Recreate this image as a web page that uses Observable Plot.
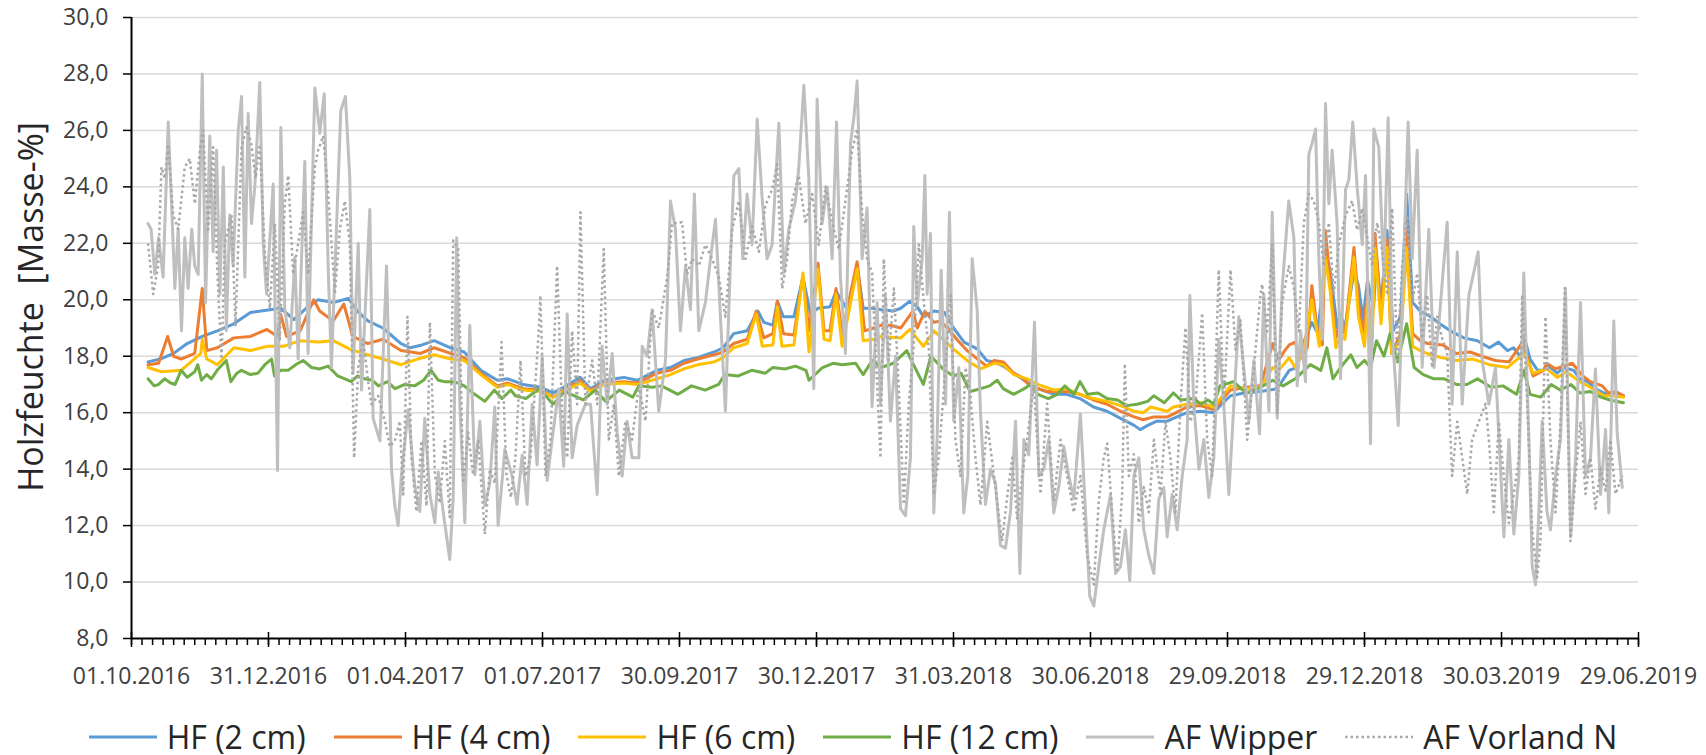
<!DOCTYPE html>
<html><head><meta charset="utf-8">
<script src="https://cdn.jsdelivr.net/npm/d3@7"></script>
<script src="https://cdn.jsdelivr.net/npm/@observablehq/plot@0.6"></script>
<style>
body{margin:0;background:#fff;font-family:"Open Sans",sans-serif;}
#chart svg{display:block;}
#legend{display:flex;justify-content:center;align-items:center;height:36px;margin-top:19px;font-size:32px;line-height:1;color:#262626;white-space:nowrap;}
.item{display:flex;align-items:center;margin:0 14px;line-height:1;}
.item span{line-height:1;}
.item svg{margin-right:10px;}
</style></head><body><div id="chart"></div><div id="legend"></div>
<script>
// x-axis tick labels (Excel major unit: 91 days)
const xTickLabels = ["01.10.2016","31.12.2016","01.04.2017","01.07.2017","30.09.2017","30.12.2017","31.03.2018","30.06.2018","29.09.2018","29.12.2018","30.03.2019","29.06.2019"];
const yTicks = [8,10,12,14,16,18,20,22,24,26,28,30];
const seriesNames = ["HF (2 cm)","HF (4 cm)","HF (6 cm)","HF (12 cm)","AF Wipper","AF Vorland N"];
const seriesColors = ["#5B9BD5","#ED7D31","#FFC000","#70AD47","#BFBFBF","#A8A8A8"];

// each pair: [days since 01.10.2016, Holzfeuchte in Masse-%]
const hf2 = [[11,17.8],[19,17.9],[28,18.1],[37,18.45],[47,18.7],[57,18.9],[68,19.15],[79,19.55],[86,19.6],[99,19.7],[108,19.3],[116,19.7],[124,20.0],[134,19.9],[144,20.05],[150,19.6],[157,19.25],[167,19.0],[179,18.45],[185,18.3],[193,18.4],[201,18.55],[212,18.3],[221,18.15],[232,17.5],[243,17.15],[250,17.2],[260,17.0],[272,16.9],[280,16.7],[287,16.9],[298,17.25],[305,16.85],[314,17.15],[327,17.25],[336,17.15],[349,17.5],[358,17.6],[367,17.85],[376,17.95],[387,18.15],[393,18.3],[400,18.8],[409,18.9],[416,19.6],[420,19.2],[426,19.1],[429,19.95],[433,19.4],[440,19.4],[446,20.8],[451,19.5],[456,19.7],[464,19.75],[468,20.3],[476,19.6],[482,21.2],[486,19.7],[492,19.7],[498,19.65],[506,19.6],[511,19.7],[517,19.95],[522,19.75],[526,19.4],[533,19.6],[540,19.55],[546,19.0],[553,18.5],[562,18.25],[568,17.85],[573,17.8],[579,17.65],[586,17.4],[593,17.15],[602,16.85],[613,16.65],[621,16.65],[630,16.5],[639,16.2],[648,16.05],[657,15.8],[666,15.55],[670,15.4],[675,15.55],[681,15.7],[688,15.7],[692,15.8],[701,16.0],[710,16.05],[719,16.0],[724,16.3],[730,16.6],[739,16.7],[750,16.75],[761,16.85],[769,17.5],[774,17.6],[779,18.55],[784,19.2],[788,18.8],[793,21.5],[796,21.1],[801,19.0],[803,19.5],[806,19.0],[812,21.0],[815,20.5],[818,19.3],[821,20.7],[825,19.7],[827,21.5],[830,19.8],[834,22.45],[838,18.9],[843,19.4],[847,23.75],[851,19.9],[856,19.6],[863,19.4],[869,19.15],[876,18.9],[885,18.65],[894,18.55],[902,18.3],[908,18.5],[914,18.2],[918,18.3],[923,17.95],[925,18.7],[929,17.9],[934,17.5],[938,17.5],[940,17.7],[947,17.4],[951,17.6],[958,17.5],[962,17.2],[967,17.1],[974,16.8],[980,16.65],[985,16.7],[991,16.6]];

const hf4 = [[11,17.7],[18,17.75],[24,18.7],[28,18.0],[33,17.9],[42,18.1],[47,20.4],[50,18.2],[57,18.3],[68,18.65],[79,18.7],[90,18.95],[97,18.7],[99,19.5],[103,18.7],[112,18.9],[121,20.0],[125,19.6],[134,19.25],[141,19.85],[147,18.7],[157,18.45],[167,18.6],[179,18.2],[192,18.1],[201,18.3],[212,18.1],[221,17.95],[232,17.4],[243,16.95],[250,17.05],[260,16.85],[272,16.8],[280,16.55],[287,16.8],[298,17.15],[305,16.8],[314,17.05],[327,17.1],[336,17.05],[349,17.4],[358,17.5],[367,17.75],[376,17.9],[387,18.05],[393,18.15],[400,18.45],[409,18.6],[415,19.6],[420,18.65],[426,18.8],[429,19.95],[433,18.8],[440,18.75],[446,20.85],[450,18.9],[456,21.3],[460,18.9],[464,18.9],[468,20.4],[472,18.8],[482,21.35],[487,18.9],[493,19.0],[498,19.1],[504,19.1],[511,19.0],[519,19.6],[522,19.0],[527,19.6],[533,19.2],[537,19.25],[542,19.0],[549,18.55],[555,18.2],[562,17.9],[568,17.65],[573,17.85],[579,17.8],[586,17.4],[590,17.3],[597,16.95],[608,16.75],[621,16.75],[630,16.65],[639,16.45],[648,16.3],[657,16.05],[666,15.85],[672,15.75],[679,15.85],[688,15.85],[692,15.95],[701,16.2],[710,16.25],[719,16.1],[724,16.45],[730,16.8],[741,16.9],[750,16.95],[758,18.45],[762,17.85],[766,18.2],[769,18.4],[773,18.5],[776,17.9],[781,18.3],[784,20.5],[788,18.8],[791,18.4],[793,22.45],[796,20.8],[800,18.65],[803,19.15],[806,18.8],[812,21.85],[815,19.9],[818,18.8],[821,20.25],[824,18.65],[826,22.35],[830,19.4],[834,22.15],[837,18.1],[843,18.8],[847,22.45],[851,18.8],[856,18.55],[861,18.45],[871,18.4],[880,18.1],[889,18.15],[897,18.0],[906,17.85],[915,17.8],[924,18.5],[931,17.3],[938,17.5],[940,17.75],[946,17.55],[951,17.65],[957,17.75],[964,17.3],[969,17.1],[977,16.95],[981,16.7],[986,16.75],[991,16.6]];

const hf6 = [[11,17.6],[20,17.45],[33,17.5],[46,18.1],[47,18.6],[50,17.9],[57,17.7],[68,18.3],[79,18.2],[90,18.35],[101,18.35],[112,18.55],[124,18.5],[134,18.55],[145,18.25],[157,18.05],[167,17.9],[179,17.7],[190,17.9],[201,18.05],[212,17.9],[221,17.85],[232,17.35],[243,16.9],[250,17.0],[260,16.8],[272,16.75],[280,16.55],[287,16.75],[298,17.05],[305,16.75],[314,17.0],[327,17.05],[336,17.0],[349,17.2],[358,17.35],[367,17.55],[376,17.7],[387,17.8],[393,17.95],[400,18.3],[409,18.45],[415,19.5],[419,18.35],[426,18.4],[429,19.75],[432,18.35],[440,18.4],[446,20.95],[450,18.15],[456,21.1],[460,18.6],[464,18.55],[468,20.2],[472,18.35],[482,21.1],[486,18.55],[493,18.6],[498,18.7],[511,18.65],[517,18.95],[526,18.35],[533,18.9],[546,18.25],[555,17.85],[564,17.55],[573,17.75],[579,17.7],[586,17.35],[595,17.2],[602,17.0],[613,16.8],[621,16.85],[630,16.65],[639,16.5],[648,16.4],[657,16.25],[666,16.05],[672,16.0],[677,16.2],[688,16.05],[692,16.2],[701,16.3],[710,16.35],[719,16.2],[724,16.55],[730,16.95],[741,16.85],[750,16.9],[758,17.6],[762,17.5],[769,17.95],[773,17.6],[779,18.3],[784,20.0],[789,18.35],[793,21.5],[796,20.4],[800,18.3],[803,18.8],[806,18.6],[812,21.5],[815,19.4],[819,18.35],[821,19.9],[824,18.35],[826,21.85],[830,19.15],[834,21.85],[837,18.1],[843,18.55],[847,21.85],[851,18.35],[856,18.2],[863,18.05],[870,17.95],[880,17.85],[891,17.9],[902,17.7],[914,17.6],[925,18.1],[931,17.4],[940,17.55],[947,17.25],[953,17.45],[962,17.1],[969,16.9],[978,16.6],[985,16.6],[991,16.55]];

const hf12 = [[11,17.2],[15,16.95],[18,17.0],[22,17.2],[26,17.05],[29,17.0],[33,17.5],[37,17.25],[42,17.45],[44,17.7],[46.5,17.15],[50,17.35],[53,17.2],[57.6,17.55],[63,17.85],[66,17.1],[70,17.4],[73,17.5],[79,17.35],[84,17.4],[88.6,17.7],[93,17.9],[95,17.3],[99,17.5],[104,17.5],[109,17.7],[114,17.85],[119.6,17.6],[125,17.55],[130.6,17.65],[137,17.3],[146,17.1],[150,17.3],[155,17.2],[160,17.15],[164,16.95],[170,17.1],[175,16.85],[181.6,17.0],[188,16.95],[194,17.15],[199,17.5],[203.7,17.15],[208,17.1],[212.6,17.1],[217,17.05],[221,16.95],[228,16.65],[234.7,16.4],[241,16.8],[246,16.5],[252,16.8],[255,16.6],[262,16.5],[271,16.85],[280,16.3],[288,16.75],[300,16.45],[308,16.8],[315,16.4],[324,16.8],[333,16.55],[337,16.95],[346,16.9],[352,16.95],[363,16.65],[372,16.95],[381,16.8],[390,17.0],[394,17.35],[403,17.3],[412,17.5],[421,17.4],[426,17.6],[434,17.55],[441,17.65],[448,17.5],[450,17.15],[459,17.6],[466,17.75],[472,17.7],[481,17.75],[486,17.35],[492,17.85],[498,17.6],[506,17.75],[515,18.2],[519,17.75],[526,17.0],[531,18.0],[540,17.5],[546,17.3],[551,17.4],[557,16.75],[564,16.85],[570,16.95],[575,17.15],[579,16.85],[586,16.65],[593,16.85],[597,17.0],[602,16.65],[609,16.5],[615,16.65],[620,16.95],[626,16.65],[630,17.1],[635,16.65],[642,16.7],[648,16.5],[655,16.45],[661,16.25],[668,16.3],[675,16.4],[679,16.6],[686,16.35],[692,16.7],[697,16.45],[706,16.5],[710,16.3],[715,16.45],[719,16.3],[723,16.95],[732,17.1],[737,16.85],[741,16.7],[750,16.9],[758,17.15],[765,16.95],[773,17.2],[776,17.35],[783,17.7],[790,17.5],[794,18.3],[798,17.2],[803,17.6],[810,18.05],[814,17.6],[819,17.85],[823,17.6],[827,18.55],[832,18.0],[836,18.8],[841,17.8],[847,19.15],[852,17.6],[858,17.35],[865,17.2],[872,17.2],[880,17.0],[887,17.0],[894,17.2],[903,16.9],[911,16.95],[920,16.65],[925,17.5],[929,16.65],[936,16.55],[943,17.0],[949,16.8],[956,17.0],[962,16.7],[969,16.75],[976,16.55],[982,16.45],[991,16.35]];

const afWipper = [[11,22.7],[13,22.5],[15.5,20.9],[18,22.2],[21,20.8],[24.4,26.3],[26.6,23.4],[28.8,20.4],[31,22.5],[33.2,18.9],[35.4,22.2],[37.6,20.4],[40,22.5],[42,21.2],[44.3,20.9],[47,28.0],[49.2,19.9],[52,25.8],[54.2,21.7],[56.5,25.3],[58.7,20.2],[61,24.7],[63,18.9],[65.3,23.0],[67.5,21.2],[70.9,26.0],[73.1,27.2],[75.3,20.8],[77.5,26.6],[79.7,22.7],[81.9,24.0],[85.2,27.7],[87.5,22.0],[89.7,20.2],[94.1,24.1],[97,13.95],[99.2,26.1],[101.8,19.7],[105.2,18.3],[108.5,21.5],[110.7,17.9],[115.1,24.9],[117.3,18.1],[121.8,27.5],[125.1,25.9],[128,27.3],[130.6,21.2],[132.8,17.6],[139,26.7],[142.1,27.2],[145,24.3],[147.2,17.4],[150.6,22.0],[152.8,16.8],[158.3,23.2],[160.5,15.8],[165,15.0],[169.4,21.2],[172.7,14.0],[174.9,12.7],[177.1,12.0],[179.3,13.8],[183.8,16.1],[188.2,13.4],[191.5,12.5],[194.8,15.8],[198.2,13.1],[201.5,12.1],[203.7,13.9],[207,12.5],[211.4,10.8],[213.7,13.0],[216,22.2],[218.1,16.3],[221.4,12.1],[224.7,19.1],[228.1,13.8],[231.4,15.7],[234.7,12.7],[238,13.5],[241.3,16.2],[243.5,12.0],[248,14.7],[252.8,13.75],[256.1,12.75],[259.5,14.5],[262.8,12.75],[266.1,16.3],[269.4,14.15],[272.8,18.0],[276.1,13.6],[279.4,15.05],[283.8,16.85],[287.1,14.1],[289.4,19.5],[292.7,14.4],[296,15.55],[301.5,16.3],[304.9,16.3],[309.3,13.1],[312.6,18.35],[315.9,16.3],[319.3,18.1],[322.6,15.3],[325.9,13.75],[329.2,15.7],[332.5,14.4],[337,14.4],[339.2,18.35],[342.5,18.0],[345.8,19.65],[350.2,16.05],[354.7,17.85],[358,23.5],[361.3,22.5],[364.6,18.9],[368,21.2],[371.3,19.65],[373.9,23.75],[376.8,18.9],[381.2,19.9],[384.6,21.45],[387.9,22.85],[391.2,19.4],[394.5,16.05],[397.9,21.45],[400.1,24.4],[403.4,24.65],[406,21.45],[408.9,23.75],[412.2,21.95],[415.6,26.4],[418.9,23.6],[422.2,21.45],[425.5,21.95],[430,26.25],[433.3,20.95],[436.6,22.5],[441,23.5],[443.2,24.65],[446.6,27.6],[449.9,24.3],[453.2,16.85],[455.4,27.1],[458.7,22.7],[462.1,24.0],[465.4,21.45],[468.3,26.3],[470.9,20.8],[474.2,18.1],[477.6,25.55],[479.8,26.45],[482,27.75],[485.3,21.45],[488.6,23.25],[491.9,16.2],[495.3,19.9],[497.5,16.3],[500.8,20.15],[504.1,15.7],[507.5,18.0],[510.8,12.6],[514.1,12.35],[517.4,14.4],[519.6,22.6],[521.9,19.8],[525.2,21.45],[527,24.4],[528.5,20.2],[530.7,22.35],[532.9,12.45],[535.1,15.05],[537.8,21.05],[540.7,16.3],[543.3,23.1],[546.2,15.7],[549.5,17.6],[552.8,12.45],[555.5,13.75],[558.4,21.45],[561.7,19.65],[563.9,16.05],[567.2,12.75],[570.6,14.0],[573.9,13.5],[577.2,11.3],[580.5,11.2],[583.9,12.5],[587.2,15.7],[590.1,10.3],[592.7,15.05],[596,14.5],[599.8,19.2],[602.7,13.75],[606,14.0],[609.3,15.05],[612.6,12.45],[616,13.4],[619.3,14.8],[622.6,13.75],[625.9,12.95],[630.3,15.95],[633.7,12.45],[636.5,9.5],[639.2,9.15],[642.5,10.55],[645.8,11.85],[650.3,13.1],[653.6,10.3],[656.9,10.55],[660.2,11.85],[663.1,10.05],[665.8,13.75],[669.1,14.4],[672.4,11.85],[675.7,10.95],[679.1,10.3],[682.4,12.95],[685.7,13.35],[687.9,11.6],[691.2,13.1],[694.6,11.85],[697.9,13.75],[701.2,15.05],[703,20.15],[705.6,16.3],[709,14.0],[712.3,15.05],[715.6,13.0],[718.9,14.4],[722.2,18.6],[725.5,16.3],[728.9,13.1],[732.2,16.3],[735.5,19.4],[738.8,17.6],[742.2,15.7],[745.5,17.85],[749.3,15.25],[752.1,20.2],[755.5,16.05],[757.7,23.1],[761,15.8],[764.3,20.4],[768.7,23.5],[772.1,22.2],[774.3,16.95],[776.6,18.9],[779.8,17.1],[782,25.15],[784.2,25.55],[786.5,26.05],[788.7,21.45],[790.9,18.6],[793.1,26.95],[795.3,23.4],[797.5,25.3],[800.8,22.7],[803.1,17.2],[806.4,23.9],[808.6,24.25],[811.2,26.3],[814.1,24.0],[817.5,21.95],[819.7,24.4],[823,14.9],[825.2,26.05],[828.5,25.4],[831.8,20.8],[834.7,26.45],[837.4,18.9],[841.4,15.55],[845.1,21.45],[848,26.3],[850.7,21.45],[854,25.3],[857.3,17.6],[861.7,22.5],[865.1,17.6],[868.4,19.15],[873.9,22.75],[877.2,16.3],[880.6,21.7],[883.9,16.3],[888.3,20.15],[894.5,21.7],[897.2,17.85],[901.6,16.3],[906,17.6],[911.6,11.6],[914.9,15.05],[918.2,11.7],[921.5,13.75],[924.8,20.95],[928.2,15.05],[930.4,10.55],[932.6,9.9],[934.8,12.5],[937,15.7],[940.2,12.5],[942.5,11.85],[945.9,13.75],[949.2,15.05],[952.5,20.4],[955.9,11.6],[959.2,14.4],[962.5,19.9],[965.8,13.75],[969.1,14.4],[972.4,17.55],[975.8,13.1],[979.1,15.4],[981.3,12.45],[984.6,19.25],[986.8,15.3],[990.2,13.35]];

const afVorland = [[11,22.0],[14.4,20.2],[17.7,21.2],[19.9,24.7],[22.1,24.3],[24.4,25.5],[27.7,23.0],[31,22.5],[35.4,24.7],[38.7,25.0],[42.1,23.4],[45.4,25.3],[47.6,26.0],[50.9,22.4],[54.2,25.4],[57.1,20.9],[59.8,17.9],[62,22.0],[66.4,23.0],[69.1,19.1],[73.1,25.4],[76.4,26.1],[79.7,25.5],[82.4,24.3],[85.2,25.5],[88.6,21.6],[91.9,19.7],[95.2,22.7],[98.5,18.6],[101.8,23.4],[104.1,24.4],[107.4,20.9],[110.7,22.0],[114,23.1],[117.3,20.9],[121.8,24.7],[124,25.3],[127.3,25.8],[130.6,23.8],[135.1,20.2],[138.4,22.5],[141.7,23.5],[145,22.0],[147.9,14.4],[150.6,17.6],[153.9,18.6],[157.2,17.1],[159.4,16.3],[163.8,16.6],[168.3,15.7],[171.6,14.8],[174.9,15.0],[178.2,15.7],[180.5,13.1],[183.3,19.4],[186,14.4],[189.3,12.5],[192.6,15.0],[196,12.7],[198.2,19.2],[201.5,13.8],[204.8,12.8],[208.1,15.0],[211.4,12.3],[213.7,22.1],[217,21.8],[220.3,13.5],[223.6,15.3],[226.9,13.8],[230.3,15.0],[234.7,11.7],[238,14.0],[241.3,13.5],[245.8,18.5],[249.1,13.8],[252,13.0],[255,14.4],[258.4,17.85],[261.7,13.75],[265,14.4],[270.5,18.9],[271.6,20.15],[275,13.75],[278.3,15.05],[282.7,21.2],[286,16.05],[289.4,14.4],[292.7,18.9],[296,16.3],[298.2,23.1],[301.5,16.3],[306,17.85],[309.3,16.3],[313.7,21.8],[317,15.05],[320.4,16.3],[323.7,13.75],[328.1,15.7],[332.5,15.05],[337,16.95],[341.4,15.7],[345.8,19.65],[350.2,19.0],[355.8,20.8],[359.1,22.7],[365.7,22.75],[369,20.9],[372.4,21.45],[376.8,21.2],[381.2,21.95],[385.7,21.45],[390.1,20.8],[394.5,19.4],[399,22.5],[403.4,23.5],[407.8,21.45],[412.2,22.6],[416.7,21.7],[421.1,23.35],[425.5,23.9],[428.9,24.8],[432.2,20.4],[435.5,21.45],[438.8,23.5],[443.2,24.4],[447.7,22.7],[452.1,23.75],[456.5,21.95],[461,24.0],[466.5,22.5],[469.8,21.8],[474.2,23.5],[478.7,25.3],[482,26.05],[485.3,23.1],[488.6,21.45],[491.9,20.95],[496.4,15.7],[497.5,14.4],[499.7,21.45],[503,17.86],[506.4,20.4],[509.7,16.83],[513,12.75],[516.3,16.32],[519.6,18.37],[523,21.96],[526.3,19.91],[529.6,18.24],[532.9,13.1],[536.2,14.4],[539.6,16.83],[544,20.17],[547.3,15.04],[550.6,13.76],[554,17.6],[557.3,16.58],[560.6,14.4],[563.9,12.73],[568.4,15.68],[571.7,14.27],[575,12.86],[578.3,11.45],[581.6,12.99],[585,14.4],[588.3,12.22],[591.6,13.76],[594.9,15.04],[599.3,16.96],[603.8,13.12],[608.2,16.32],[612.6,12.86],[617.1,15.04],[621.5,13.76],[625.9,12.47],[630.3,13.76],[634.8,10.94],[639.2,9.91],[642.5,12.86],[645.8,14.4],[648.1,14.91],[651.4,12.47],[654.7,10.42],[658,13.12],[659.8,17.73],[662.5,13.76],[665.8,14.53],[669.1,12.09],[672.4,13.37],[675.7,12.47],[679.1,15.04],[683.5,13.12],[686.8,15.68],[690.1,14.4],[693.4,12.47],[696.8,16.32],[700.1,19.01],[703.4,15.68],[706.7,16.32],[711.2,19.53],[714.5,15.04],[717.8,13.76],[722.2,21.06],[725.6,16.32],[730,21.06],[733.3,18.24],[736.6,19.27],[741.1,15.04],[745.5,17.6],[749.9,20.17],[751,20.55],[754.3,18.88],[757.7,21.96],[761,15.94],[764.3,19.91],[768.7,21.19],[772.1,20.42],[775.4,18.88],[778.7,22.73],[782,23.76],[785.3,23.5],[788.7,22.73],[792,21.19],[795.3,22.73],[798.6,20.17],[801.9,21.96],[806.4,22.99],[810.8,23.5],[814.1,22.47],[817.5,23.24],[820.8,22.22],[824.1,21.19],[827.4,22.73],[830.7,21.71],[834.1,20.17],[837.4,23.24],[840.7,17.86],[844,21.19],[847.3,22.99],[850.7,19.91],[854,20.94],[857.3,18.63],[860.6,20.17],[863.9,17.6],[867.3,19.4],[870.6,18.63],[873.9,18.12],[877.2,13.76],[880.6,15.68],[883.9,14.4],[887.2,13.12],[890.5,15.04],[894.9,15.68],[899.4,16.32],[901.6,15.04],[904.9,12.47],[908.2,15.68],[911.5,13.76],[914.9,12.09],[918.2,13.12],[921.5,14.4],[923.7,20.17],[927.1,16.32],[930.4,11.83],[933.7,10.17],[935.9,11.45],[939.2,19.4],[942.5,15.04],[945.9,12.47],[949.2,15.68],[952.1,20.42],[955.8,11.45],[959.2,13.76],[962.5,15.68],[965.8,13.12],[969.1,14.4],[972.4,12.6],[975.8,14.01],[979.1,13.24],[982.4,15.04],[985.7,13.12],[990.2,13.76]];

const parse = d3.utcParse("%d.%m.%Y");
const fmt = d3.utcFormat("%d.%m.%Y");
const majors = xTickLabels.map(parse);
const start = majors[0], end = majors[majors.length - 1];
const totalDays = Math.round((end - start) / 864e5);
const minors = d3.range(0, totalDays + 1, 7).map(k => new Date(+start + k * 864e5));
const toRows = (arr, i) => arr.map(([d, v]) => ({date: new Date(+start + d * 864e5), value: v, series: seriesNames[i]}));
const allSeries = [hf2, hf4, hf6, hf12, afWipper, afVorland].map(toRows);
const widths = [3, 3, 3, 3, 3, 2.5];

const lineMarks = allSeries.map((rows, i) => Plot.line(rows, {
  x: "date", y: "value", stroke: seriesColors[i], strokeWidth: widths[i],
  strokeLinejoin: "round", strokeLinecap: i === 5 ? "butt" : "round",
  strokeDasharray: i === 5 ? "2.5 3" : null
}));

const chart = Plot.plot({
  width: 1706, height: 700,
  marginLeft: 131, marginRight: 68, marginTop: 17, marginBottom: 62,
  style: {fontFamily: "'Open Sans', sans-serif", fontSize: "23px", color: "#404040", background: "#fff", overflow: "visible"},
  x: {type: "utc", domain: [start, end]},
  y: {domain: [8, 30]},
  marks: [
    Plot.ruleY(yTicks.filter(d => d > 8), {stroke: "#d9d9d9", strokeWidth: 1.5}),
    ...lineMarks,
    Plot.ruleX([start], {stroke: "#000", strokeWidth: 2}),
    Plot.ruleY([8], {stroke: "#000", strokeWidth: 2}),
    Plot.axisY({ticks: yTicks, tickFormat: d => d.toFixed(1).replace(".", ","), tickSize: 8, tickPadding: 15, label: null, stroke: "#000", strokeWidth: 1.5, fill: "#404040", fontSize: 23}),
    Plot.axisX({ticks: majors, tickFormat: fmt, tickSize: 9, tickPadding: 20, label: null, stroke: "#000", strokeWidth: 1.5, fill: "#404040", fontSize: 23}),
    Plot.ruleX(majors, {x: d => d, y1: 8, y2: 8, insetTop: -6, stroke: "#000", strokeWidth: 1.5}),
    Plot.ruleX(minors, {x: d => d, y1: 8, y2: 8, insetBottom: -7, stroke: "#000", strokeWidth: 1.5}),
    Plot.text(["Holzfeuchte  [Masse-%]"], {text: d => d, frameAnchor: "left", textAnchor: "middle", lineAnchor: "middle", dx: -99, dy: -21, rotate: -90, fontSize: 34, fill: "#262626"})
  ]
});
document.getElementById("chart").appendChild(chart);

const legend = document.getElementById("legend");
seriesNames.forEach((name, i) => {
  const item = document.createElement("div");
  item.className = "item";
  const dash = i === 5 ? ' stroke-dasharray="2.5 3"' : '';
  item.innerHTML = `<svg width="68" height="12"><line x1="0" x2="68" y1="6" y2="6" stroke="${seriesColors[i]}" stroke-width="${i === 5 ? 2.5 : 3}"${dash}/></svg><span>${name}</span>`;
  legend.appendChild(item);
});
</script></body></html>
